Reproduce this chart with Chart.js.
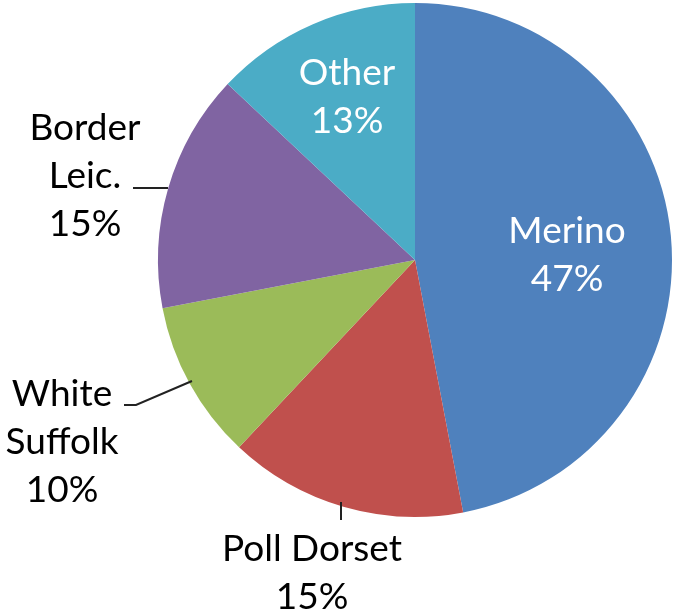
<!DOCTYPE html>
<html>
<head>
<meta charset="utf-8">
<script src="https://cdn.jsdelivr.net/npm/chart.js@4.4.1/dist/chart.umd.min.js"></script>
<style>
  html, body { margin: 0; padding: 0; background: #fff; }
  #wrap { width: 673px; height: 616px; }
</style>
</head>
<body>
<div id="wrap"><canvas id="pie"></canvas></div>
<script>
// breed share of flock, clockwise from 12 o'clock
const breeds = ["Merino", "Poll Dorset", "White Suffolk", "Border Leic.", "Other"];
const shares = [47, 15, 10, 15, 13];
const sliceColors = ["#4F81BD", "#C0504D", "#9BBB59", "#8064A2", "#4BACC6"];

// label layout: text lines, centre of the text block, colour, leader line
const labelLayout = [
  { lines: ["Merino"], x: 567, y: 255, color: "#fff" },
  { lines: ["Poll Dorset"], x: 312, y: 573, color: "#000", leader: [[341, 520], [341, 502]] },
  { lines: ["White", "Suffolk"], x: 62, y: 442, color: "#000", leader: [[124, 405], [136, 405], [192, 381]] },
  { lines: ["Border", "Leic."], x: 85, y: 176, color: "#000", leader: [[133, 188], [168, 188]] },
  { lines: ["Other"], x: 347, y: 97, color: "#fff" },
];

const lineHeight = 48;

const pieLabels = {
  id: "pieLabels",
  afterDatasetsDraw(chart) {
    const ctx = chart.ctx;
    ctx.save();
    labelLayout.forEach((lab, i) => {
      if (lab.leader) {
        ctx.strokeStyle = "#222";
        ctx.lineWidth = 2;
        ctx.beginPath();
        lab.leader.forEach((p, j) => (j ? ctx.lineTo(p[0], p[1]) : ctx.moveTo(p[0], p[1])));
        ctx.stroke();
      }
      const rows = lab.lines.concat([shares[i] + "%"]);
      const top = lab.y - ((rows.length - 1) * lineHeight) / 2;
      ctx.fillStyle = lab.color;
      ctx.font = "37px Lato";
      ctx.textAlign = "center";
      ctx.textBaseline = "middle";
      rows.forEach((t, k) => ctx.fillText(t, lab.x, top + k * lineHeight));
    });
    ctx.restore();
  },
};

new Chart(document.getElementById("pie"), {
  type: "pie",
  data: {
    labels: breeds,
    datasets: [
      {
        data: shares,
        backgroundColor: sliceColors,
        borderWidth: 0,
      },
    ],
  },
  options: {
    responsive: true,
    maintainAspectRatio: false,
    animation: false,
    layout: {
      padding: { left: 158, right: 1, top: 3, bottom: 99 },
    },
    plugins: {
      legend: { display: false },
      tooltip: { enabled: false },
    },
  },
  plugins: [pieLabels],
});
</script>
</body>
</html>
